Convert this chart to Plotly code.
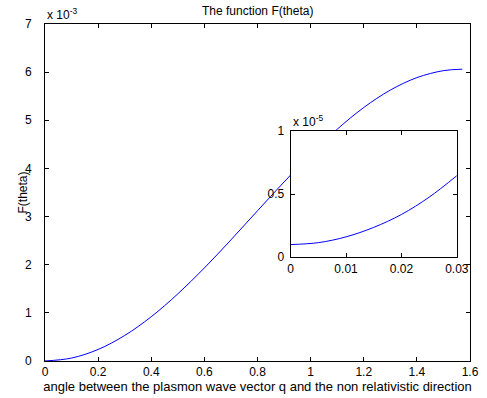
import plotly.graph_objects as go

# ---- data ----
theta_main = [0, 0.1, 0.2, 0.3, 0.4, 0.5, 0.6, 0.7, 0.8, 0.9, 1.0, 1.1, 1.2, 1.3, 1.4, 1.5, 1.5708]
F_main = [0.001e-3, 0.061e-3, 0.240e-3, 0.530e-3, 0.920e-3, 1.394e-3, 1.933e-3, 2.516e-3,
          3.120e-3, 3.719e-3, 4.292e-3, 4.814e-3, 5.265e-3, 5.627e-3, 5.886e-3, 6.031e-3, 6.061e-3]

theta_inset = [0, 0.005, 0.01, 0.015, 0.02, 0.025, 0.03]
F_inset = [0.100e-5, 0.115e-5, 0.161e-5, 0.236e-5, 0.338e-5, 0.475e-5, 0.645e-5]

main_xticks = [0, 0.2, 0.4, 0.6, 0.8, 1.0, 1.2, 1.4, 1.6]
main_xticklabels = ["0", "0.2", "0.4", "0.6", "0.8", "1", "1.2", "1.4", "1.6"]
main_yticks = [0, 1e-3, 2e-3, 3e-3, 4e-3, 5e-3, 6e-3, 7e-3]
main_yticklabels = ["0", "1", "2", "3", "4", "5", "6", "7"]

inset_xticks = [0, 0.01, 0.02, 0.03]
inset_xticklabels = ["0", "0.01", "0.02", "0.03"]
inset_yticks = [0, 0.5e-5, 1e-5]
inset_yticklabels = ["0", "0.5", "1"]

title_text = "The function F(theta)"
xlabel = "angle between the plasmon wave vector q and the non relativistic direction"
ylabel = "F(theta)"

FONT = "Liberation Sans, Arial, Helvetica, sans-serif"
FS = 12

fig = go.Figure()
fig.add_trace(go.Scatter(x=theta_main, y=F_main, mode="lines", line=dict(color="#0000ff", width=1, shape="spline"),
                         xaxis="x", yaxis="y", showlegend=False, hoverinfo="skip"))
fig.add_trace(go.Scatter(x=theta_inset, y=F_inset, mode="lines", line=dict(color="#0000ff", width=1, shape="spline"),
                         xaxis="x2", yaxis="y2", showlegend=False, hoverinfo="skip"))

axis_common = dict(showline=True, linecolor="black", linewidth=1, mirror="ticks", ticks="inside",
                   ticklen=4, tickcolor="black", tickwidth=1, showgrid=False, zeroline=False,
                   automargin=False, tickfont=dict(family=FONT, size=FS, color="black"))

fig.update_layout(
    width=487, height=398,
    margin=dict(l=45, r=17, t=24, b=37),
    paper_bgcolor="white", plot_bgcolor="white",
    font=dict(family=FONT, size=FS, color="black"),
    xaxis=dict(domain=[0, 1], range=[0, 1.6], tickvals=main_xticks, ticktext=main_xticklabels,
               title=dict(text=xlabel, standoff=1, font=dict(family=FONT, size=13)), anchor="y", **axis_common),
    yaxis=dict(domain=[0, 1], range=[0, 7e-3], tickvals=main_yticks, ticktext=main_yticklabels,
               anchor="x", ticklabelstandoff=10, **axis_common),
    xaxis2=dict(domain=[0.578, 0.969], range=[0, 0.03], tickvals=inset_xticks, ticktext=inset_xticklabels,
                anchor="y2", **axis_common),
    yaxis2=dict(domain=[0.308, 0.683], range=[0, 1e-5], tickvals=inset_yticks, ticktext=inset_yticklabels,
                anchor="x2", ticklabelstandoff=3, **axis_common),
    annotations=[
        dict(text=title_text, xref="paper", yref="paper", x=0.5, y=1, xanchor="center", yanchor="bottom",
             yshift=4, showarrow=False, font=dict(family=FONT, size=FS)),
        dict(text=ylabel, xref="paper", yref="paper", x=0, y=0.5, xanchor="center", yanchor="middle",
             xshift=-23, textangle=-90, showarrow=False, font=dict(family=FONT, size=FS)),
        dict(text="x 10<sup>-3</sup>", xref="paper", yref="paper", x=0, y=1, xanchor="left", yanchor="bottom",
             yshift=0, showarrow=False, font=dict(family=FONT, size=FS)),
        dict(text="x 10<sup>-5</sup>", xref="x2 domain", yref="y2 domain", x=0, y=1, xanchor="left",
             yanchor="bottom", yshift=0, showarrow=False, font=dict(family=FONT, size=FS)),
    ],
)

fig.write_html("out.html", config={"displayModeBar": False},
               post_script="document.body.style.margin='0';document.body.style.overflow='hidden';")
